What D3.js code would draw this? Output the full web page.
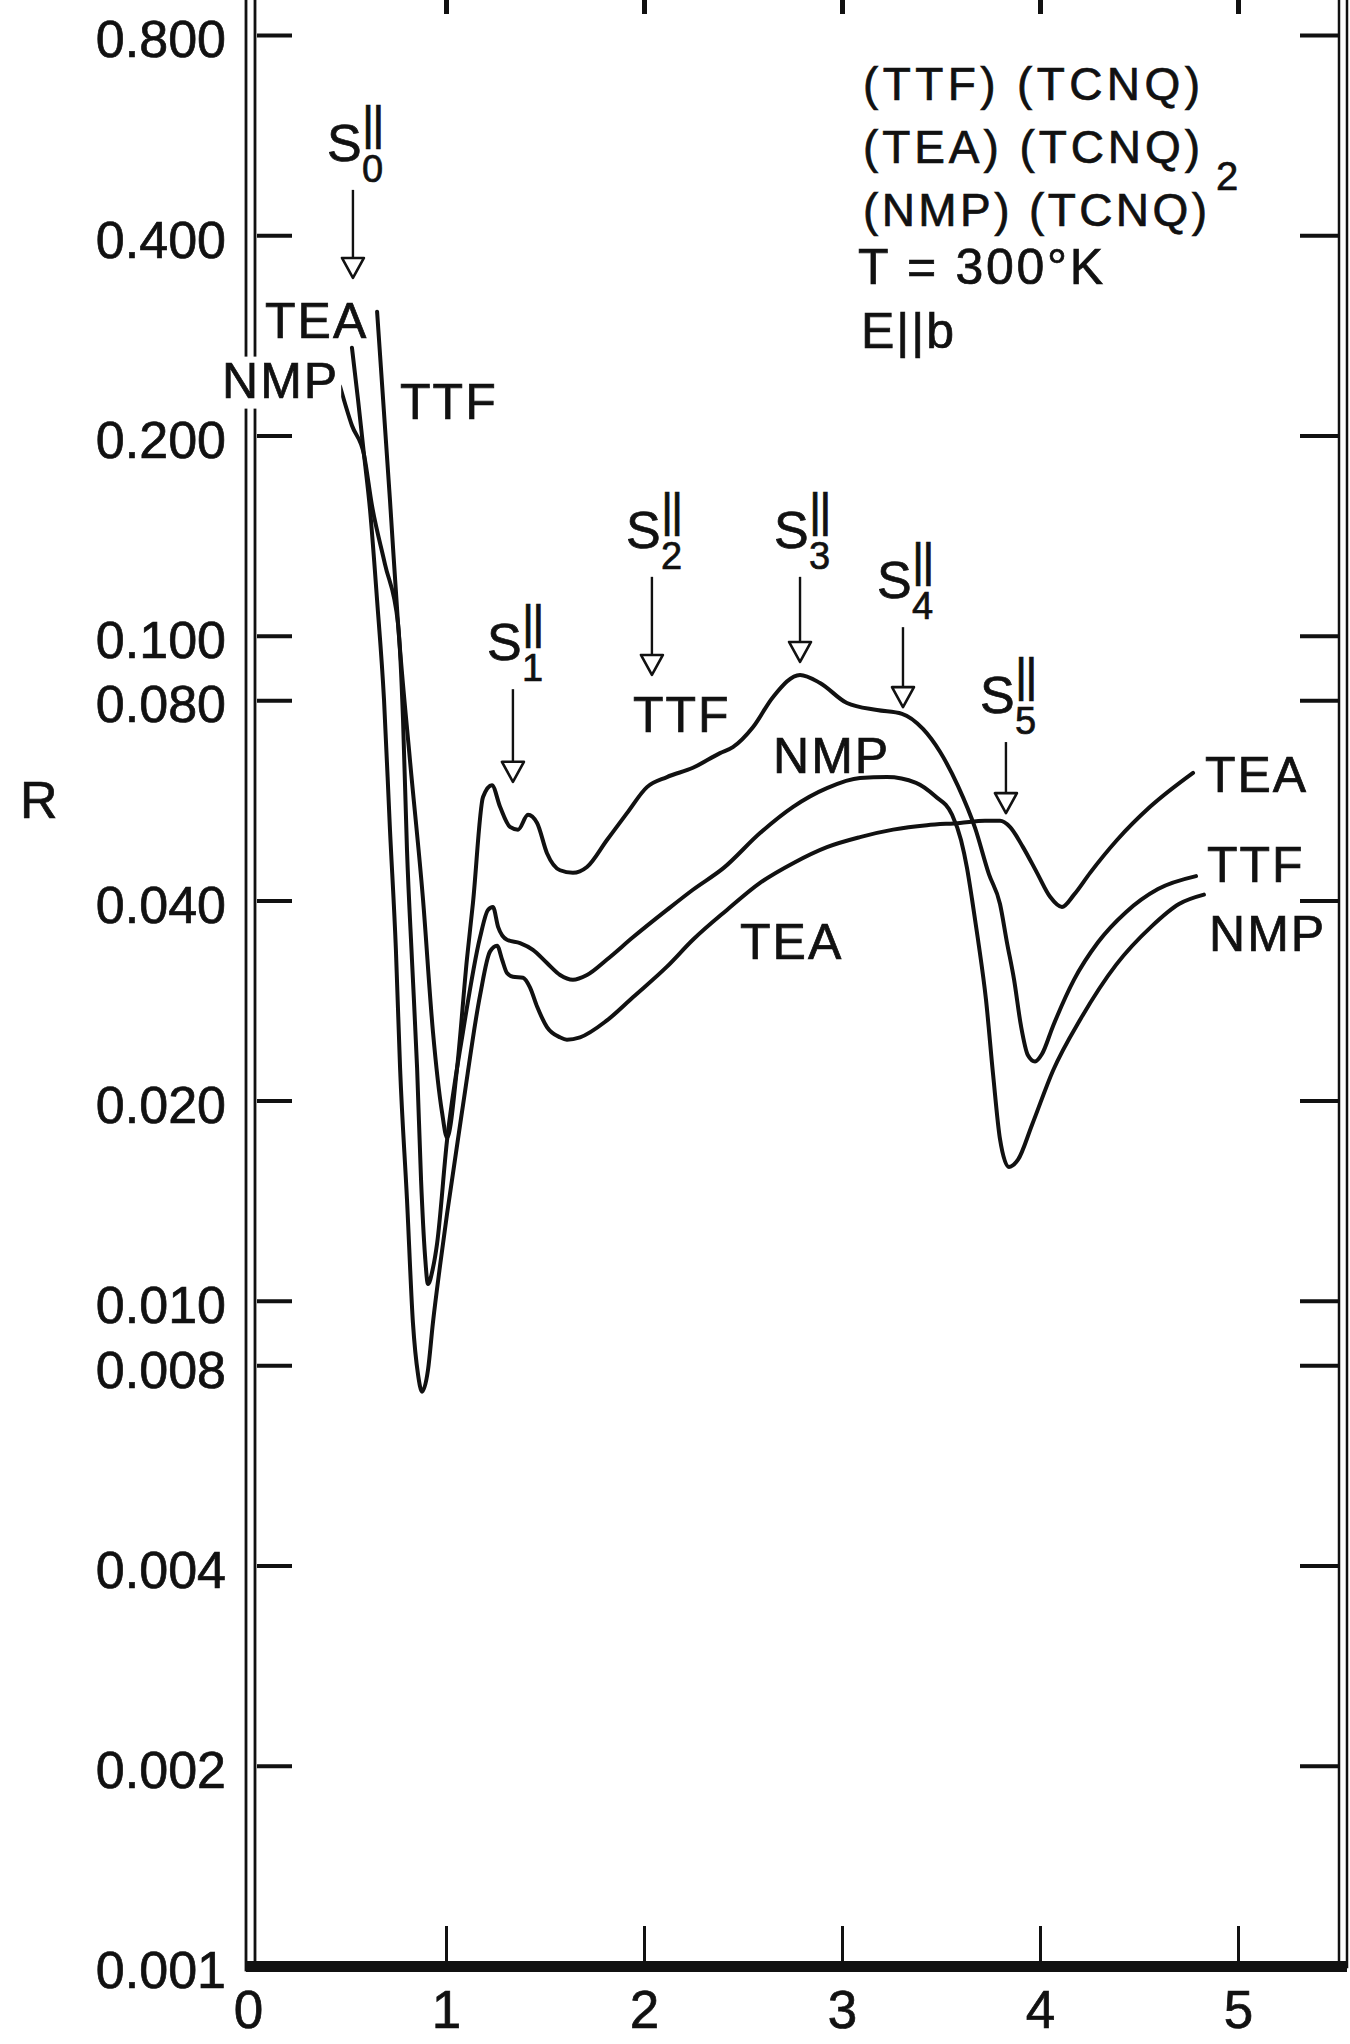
<!DOCTYPE html>
<html><head><meta charset="utf-8">
<script src="https://cdn.jsdelivr.net/npm/d3@7"></script>
<style>
html,body{margin:0;padding:0;background:#fff;}
svg{display:block;}
text{font-family:"Liberation Sans",Arial,Helvetica,sans-serif;fill:#111;stroke:#111;stroke-width:0.7px;}
</style></head><body>
<svg id="chart" width="1350" height="2044"></svg>
<script>
// ---------------- data ----------------
const yTickValues = [0.8, 0.4, 0.2, 0.1, 0.08, 0.04, 0.02, 0.01, 0.008, 0.004, 0.002, 0.001];
const xTickValues = [0, 1, 2, 3, 4, 5];
const seriesNames = ["TTF", "TEA", "NMP"];

// photon energy (eV), reflectance R
const ttfData = [[0.652,0.307],[0.717,0.160],[0.758,0.104],[0.818,0.0650],[0.884,0.0401],[0.934,0.0254],[0.980,0.0192],[1.005,0.0176],[1.056,0.0224],[1.106,0.0327],[1.136,0.0396],[1.187,0.0572],[1.232,0.0596],[1.273,0.0553],[1.323,0.0516],[1.364,0.0511],[1.414,0.0538],[1.460,0.0523],[1.510,0.0471],[1.576,0.0444],[1.641,0.0440],[1.712,0.0449],[1.813,0.0493],[1.914,0.0541],[2.015,0.0592],[2.116,0.0613],[2.247,0.0633],[2.384,0.0666],[2.449,0.0680],[2.551,0.0729],[2.652,0.0809],[2.788,0.0873],[2.889,0.0849],[3.025,0.0792],[3.177,0.0773],[3.303,0.0763],[3.409,0.0724],[3.495,0.0669],[3.586,0.0594],[3.672,0.0514],[3.742,0.0438],[3.798,0.0395],[3.833,0.0346],[3.869,0.0304],[3.904,0.0259],[3.939,0.0234],[3.975,0.0229],[4.010,0.0235],[4.066,0.0259],[4.172,0.0304],[4.293,0.0346],[4.434,0.0384],[4.596,0.0416],[4.788,0.0435]];

const teaData = [[0.525,0.271],[0.556,0.226],[0.586,0.187],[0.616,0.155],[0.652,0.113],[0.687,0.0801],[0.717,0.0511],[0.747,0.0337],[0.768,0.0224],[0.803,0.0142],[0.833,0.00927],[0.859,0.00774],[0.879,0.00730],[0.909,0.00787],[0.934,0.00927],[0.970,0.0113],[1.005,0.0135],[1.086,0.0197],[1.172,0.0288],[1.222,0.0335],[1.258,0.0342],[1.283,0.0326],[1.308,0.0311],[1.338,0.0307],[1.389,0.0306],[1.424,0.0296],[1.460,0.0277],[1.510,0.0258],[1.576,0.0249],[1.611,0.0247],[1.677,0.0249],[1.813,0.0264],[1.944,0.0286],[2.116,0.0318],[2.247,0.0349],[2.419,0.0387],[2.586,0.0425],[2.753,0.0455],[2.924,0.0481],[3.091,0.0498],[3.258,0.0511],[3.429,0.0519],[3.596,0.0523],[3.722,0.0527],[3.798,0.0527],[3.848,0.0516],[3.914,0.0481],[3.985,0.0440],[4.051,0.0405],[4.111,0.0391],[4.172,0.0408],[4.253,0.0440],[4.389,0.0493],[4.556,0.0553],[4.773,0.0622]];

const nmpData = [[0.465,0.237],[0.525,0.207],[0.586,0.187],[0.626,0.157],[0.692,0.128],[0.758,0.104],[0.783,0.0747],[0.803,0.0476],[0.828,0.0326],[0.854,0.0224],[0.874,0.0152],[0.894,0.0117],[0.909,0.0106],[0.934,0.0112],[0.955,0.0122],[1.005,0.0174],[1.086,0.0254],[1.172,0.0352],[1.212,0.0387],[1.237,0.0391],[1.263,0.0365],[1.308,0.0349],[1.374,0.0345],[1.439,0.0337],[1.510,0.0322],[1.576,0.0309],[1.641,0.0304],[1.712,0.0309],[1.813,0.0326],[1.944,0.0352],[2.116,0.0387],[2.247,0.0415],[2.404,0.0448],[2.586,0.0505],[2.753,0.0553],[2.924,0.0590],[3.091,0.0611],[3.227,0.0613],[3.374,0.0601],[3.470,0.0574],[3.556,0.0538],[3.601,0.0493],[3.631,0.0448],[3.657,0.0401],[3.687,0.0349],[3.727,0.0284],[3.763,0.0219],[3.798,0.0175],[3.843,0.0159],[3.889,0.0163],[3.960,0.0184],[4.066,0.0222],[4.207,0.0266],[4.384,0.0320],[4.561,0.0365],[4.702,0.0395],[4.828,0.0408]];

const legendLines = ["(TTF) (TCNQ)", "(TEA) (TCNQ)", "(NMP) (TCNQ)", "T = 300°K", "E||b"];
const legendSubscript = "2";

// S|| structure markers: index, energy, arrow tip R, arrow top R
const markerIndex = ["0", "1", "2", "3", "4", "5"];
const markerEnergy = [0.530, 1.338, 2.040, 2.788, 3.308, 3.828];
const markerTipR = [0.345, 0.0603, 0.0873, 0.0913, 0.0781, 0.0541];
const markerTopR = [0.468, 0.0831, 0.1226, 0.1226, 0.1030, 0.0692];

// curve labels: text, energy, R (left/baseline anchor)
const curveLabelText = ["TEA", "NMP", "TTF", "TTF", "NMP", "TEA", "TEA", "TTF", "NMP"];
const curveLabelX = [0.086, -0.131, 0.768, 1.944, 2.652, 2.485, 4.833, 4.843, 4.854];
const curveLabelR = [0.280, 0.228, 0.212, 0.0717, 0.0622, 0.0326, 0.0582, 0.0426, 0.0336];

// ---------------- drawing ----------------
const svg = d3.select("#chart");
const x = d3.scaleLinear().domain([0, 5.5]).range([248, 1337]);
const y = d3.scaleLog().domain([0.001, 0.8]).range([1966, 35]);

svg.append("rect").attr("width", 1350).attr("height", 2044).attr("fill", "#fff");

// left axis: ticks + labels
const gLeft = svg.append("g").attr("transform", "translate(248,0)")
  .call(d3.axisLeft(y).tickValues(yTickValues).tickFormat(d3.format(".3f"))
        .tickSizeInner(-44).tickSizeOuter(0).tickPadding(22));
gLeft.select(".domain").remove();
gLeft.selectAll(".tick line").attr("x1", 9).attr("x2", 44).attr("stroke", "#111").attr("stroke-width", 4);
gLeft.selectAll(".tick text").attr("font-size", 52).attr("dy", "0.42em").attr("fill", "#111")
  .style("font-family", '"Liberation Sans", Arial, sans-serif');

// right axis ticks
const gRight = svg.append("g").attr("transform", "translate(1339,0)")
  .call(d3.axisRight(y).tickValues(yTickValues).tickFormat("").tickSizeInner(-39).tickSizeOuter(0));
gRight.select(".domain").remove();
gRight.selectAll(".tick line").attr("stroke", "#111").attr("stroke-width", 4);

// bottom axis
const gBottom = svg.append("g").attr("transform", "translate(0,1966)")
  .call(d3.axisBottom(x).tickValues(xTickValues).tickFormat(d3.format("d"))
        .tickSizeInner(-40).tickSizeOuter(0).tickPadding(24));
gBottom.select(".domain").remove();
gBottom.selectAll(".tick line").attr("stroke", "#111").attr("stroke-width", 3);
gBottom.selectAll(".tick").filter(d => d === 0).select("line").remove();
gBottom.selectAll(".tick text").attr("font-size", 53).attr("fill", "#111")
  .style("font-family", '"Liberation Sans", Arial, sans-serif');

// top ticks
const gTop = svg.append("g")
  .call(d3.axisTop(x).tickValues(xTickValues.filter(d => d > 0)).tickFormat("").tickSizeInner(-14).tickSizeOuter(0));
gTop.select(".domain").remove();
gTop.selectAll(".tick line").attr("stroke", "#111").attr("stroke-width", 5);

// frame lines
svg.append("rect").attr("x", 246).attr("y", -5).attr("width", 9).attr("height", 1975)
  .attr("fill", "#fff").attr("stroke", "#111").attr("stroke-width", 2.8);
svg.append("rect").attr("x", 1339).attr("y", -5).attr("width", 8).attr("height", 1972)
  .attr("fill", "#fff").attr("stroke", "#111").attr("stroke-width", 2.5);
svg.append("rect").attr("x", 246).attr("y", 1961).attr("width", 1101).attr("height", 11).attr("fill", "#111");

// axis title
svg.append("text").attr("x", 20).attr("y", 818).attr("font-size", 52).text("R");

// curves
const line = d3.line().x(d => x(d[0])).y(d => y(d[1])).curve(d3.curveMonotoneX);
const allSeries = [ttfData, teaData, nmpData];
svg.append("g").selectAll("path").data(allSeries).join("path")
  .attr("d", line).attr("fill", "none").attr("stroke", "#111")
  .attr("stroke-width", 4).attr("stroke-linejoin", "round").attr("stroke-linecap", "round");

// curve labels (white backing so the left axis is interrupted like the original)
const gLab = svg.append("g");
curveLabelText.forEach((t, i) => {
  const tx = gLab.append("text").attr("x", x(curveLabelX[i])).attr("y", y(curveLabelR[i]))
    .attr("font-size", 50).attr("letter-spacing", 2).text(t);
  if (i === 1) {
    const bb = tx.node().getBBox();
    gLab.insert("rect", "text").attr("x", bb.x - 2).attr("y", bb.y + 4).attr("width", bb.width + 4)
      .attr("height", bb.height - 4).attr("fill", "#fff");
  }
});

// S|| markers with arrows
const gMk = svg.append("g");
markerIndex.forEach((idx, i) => {
  const ax = x(markerEnergy[i]);
  const tip = y(markerTipR[i]);
  const top = y(markerTopR[i]);
  const base = top - 29;
  gMk.append("line").attr("x1", ax).attr("x2", ax).attr("y1", top).attr("y2", tip - 18)
    .attr("stroke", "#111").attr("stroke-width", 2.4);
  gMk.append("path").attr("d", `M${ax - 11},${tip - 20} L${ax + 11},${tip - 20} L${ax},${tip} Z`)
    .attr("fill", "#fff").attr("stroke", "#111").attr("stroke-width", 2.6).attr("stroke-linejoin", "round");
  gMk.append("text").attr("x", ax - 26).attr("y", base).attr("font-size", 52).text("S");
  gMk.append("text").attr("x", ax + 9).attr("y", base - 22).attr("font-size", 47)
    .attr("letter-spacing", -2).text("||");
  gMk.append("text").attr("x", ax + 9).attr("y", base + 21).attr("font-size", 38).text(idx);
});

// legend block (top right) – each line stretched to the width it has in the original
const gLeg = svg.append("g");
const legBase = [100, 163, 226, 284, 348];
const legLeft = [863, 863, 863, 858, 861];
const legRight = [1200, 1200, 1207, 1103, 954];
legendLines.forEach((t, i) => {
  const big = i >= 3;
  const el = gLeg.append("text").attr("x", legLeft[i]).attr("y", legBase[i]).attr("font-size", big ? 50 : 46);
  const ts = el.append("tspan").text(t);
  const natural = ts.node().getComputedTextLength();
  const sp = (legRight[i] - legLeft[i] - natural) / (t.length - 1);
  ts.attr("letter-spacing", sp.toFixed(2));
  if (i === 1) {
    el.append("tspan").attr("x", 1216).attr("y", 190).attr("font-size", 40)
      .attr("letter-spacing", 0).text(legendSubscript);
  }
});
</script>
</body></html>
